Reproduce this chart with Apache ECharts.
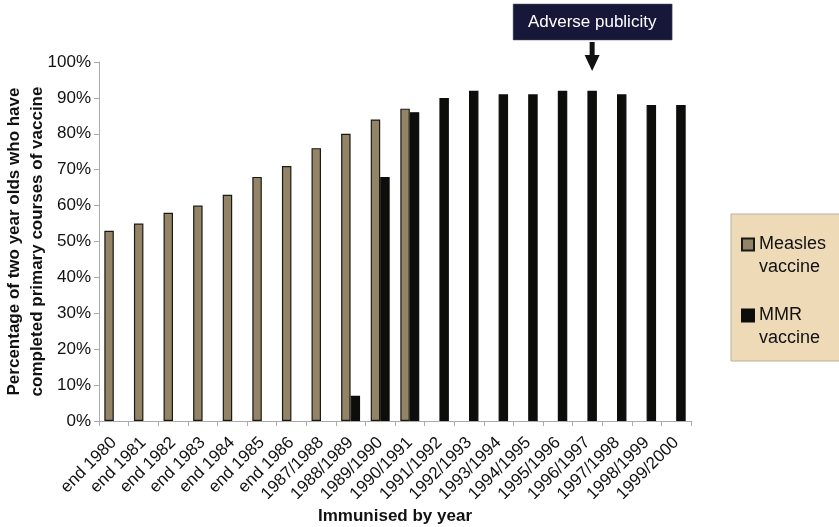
<!DOCTYPE html>
<html>
<head>
<meta charset="utf-8">
<script src="https://cdn.jsdelivr.net/npm/echarts@6/dist/echarts.min.js"></script>
<style>html,body{margin:0;padding:0;background:#fff}#c{width:839px;height:527px}</style>
</head>
<body>
<div id="c"></div>
<script>
const categories = ['end 1980','end 1981','end 1982','end 1983','end 1984','end 1985','end 1986','1987/1988','1988/1989','1989/1990','1990/1991','1991/1992','1992/1993','1993/1994','1994/1995','1995/1996','1996/1997','1997/1998','1998/1999','1999/2000'];
const measles = [53,55,58,60,63,68,71,76,80,84,87,null,null,null,null,null,null,null,null,null];
const mmr = [null,null,null,null,null,null,null,null,7,68,86,90,92,91,91,92,92,91,88,88];
const yTicks = [0,10,20,30,40,50,60,70,80,90,100];
const annotationCategory = '1996/1997';
const annotationText = 'Adverse publicity';

const FONT = 'Liberation Sans, Arial, Helvetica, sans-serif';
const chart = echarts.init(document.getElementById('c'), null, {renderer:'canvas'});
const option = {
  animation:false,
  backgroundColor:'#ffffff',
  textStyle:{fontFamily:FONT},
  grid:{left:99, right:148, top:62, bottom:106, containLabel:false, outerBoundsMode:'none'},
  legend:{
    orient:'vertical', left:741, top:210, padding:0, itemGap:2,
    itemWidth:12, itemHeight:12, icon:'rect',
    data:['Measles vaccine','MMR vaccine'],
    formatter: n => ' \n' + n.replace(' ', '\n'),
    textStyle:{fontFamily:FONT, fontSize:18, color:'#111', lineHeight:23}
  },
  xAxis:{
    type:'category', data:categories,
    name:'Immunised by year', nameLocation:'middle', nameGap:87, nameMoveOverlap:false,
    nameTextStyle:{fontFamily:FONT, fontSize:17, fontWeight:'bold', color:'#111'},
    axisLine:{lineStyle:{color:'#aaaaaa', width:1}},
    axisTick:{show:true, length:5, lineStyle:{color:'#aaaaaa'}},
    axisLabel:{interval:0, rotate:45, fontSize:17, color:'#111', margin:19, fontFamily:FONT}
  },
  yAxis:{
    type:'value', min:0, max:100, interval:10,
    name:'Percentage of two year olds who have\ncompleted primary courses of vaccine',
    nameLocation:'middle', nameGap:50, nameRotate:90, nameMoveOverlap:false,
    nameTextStyle:{fontFamily:FONT, fontSize:17, fontWeight:'bold', color:'#111', lineHeight:23},
    axisLine:{show:true, lineStyle:{color:'#aaaaaa', width:1}},
    axisTick:{show:true, length:5, lineStyle:{color:'#aaaaaa'}},
    splitLine:{show:false},
    axisLabel:{fontSize:17, color:'#111', margin:8, fontFamily:FONT,
      formatter: v => yTicks.includes(v) ? v + '%' : ''}
  },
  series:[
    {name:'Measles vaccine', type:'bar', data:measles, barGap:'0%', barCategoryGap:'36%',
     itemStyle:{color:'#938467', borderColor:'#1a1a14', borderWidth:1.2}},
    {name:'MMR vaccine', type:'bar', data:mmr, barGap:'0%', barCategoryGap:'36%',
     itemStyle:{color:'#0d0d0b', borderColor:'#0d0d0b', borderWidth:1.2}}
  ]
};
chart.setOption(option);

// legend background and annotation, positioned from the axis scale
const cx = chart.convertToPixel({xAxisIndex:0}, annotationCategory);
const step = chart.convertToPixel({xAxisIndex:0}, categories[1]) - chart.convertToPixel({xAxisIndex:0}, categories[0]);
const barW = step * 0.64 / 2;
const ax = cx + barW / 2;
chart.setOption({
  graphic:[
    {type:'rect', z:-1, shape:{x:731, y:214, width:120, height:147}, style:{fill:'#efdab8', stroke:'#b8b0a0', lineWidth:1}},
    {type:'rect', shape:{x:ax-79, y:4, width:159, height:36}, style:{fill:'#17173a', stroke:'#555', lineWidth:0.5}},
    {type:'text', x:ax, y:22, style:{text:annotationText, fill:'#ffffff', font:'17px ' + FONT, align:'center', verticalAlign:'middle'}},
    {type:'rect', shape:{x:ax-2.5, y:42, width:5, height:14}, style:{fill:'#111'}},
    {type:'polygon', shape:{points:[[ax-7.5,55],[ax+7.5,55],[ax,71]]}, style:{fill:'#111'}}
  ]
});
</script>
</body>
</html>
